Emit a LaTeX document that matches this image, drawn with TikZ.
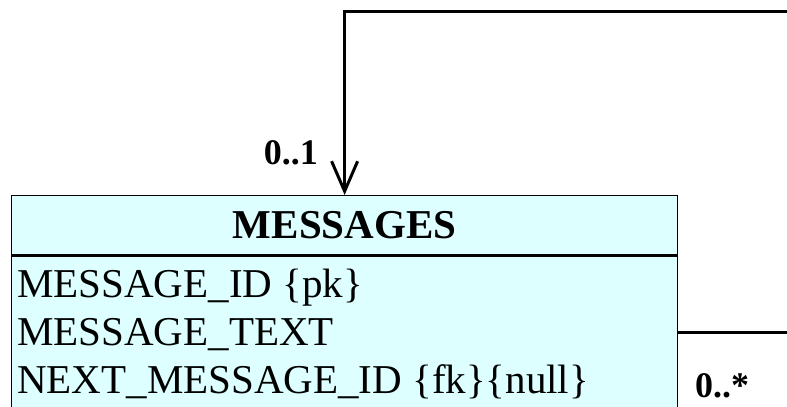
\documentclass[tikz,border=0pt]{standalone}
\usepackage{fontspec}
\setmainfont{Liberation Serif}
\usetikzlibrary{positioning,arrows.meta}
\definecolor{entityfill}{RGB}{221,255,255}
\tikzset{
    entityhead/.style={draw=black, line width=1.2bp, fill=entityfill, minimum width=666bp, minimum height=59bp,
        inner sep=0, font=\fontsize{41bp}{46bp}\selectfont\bfseries},
    entitybody/.style={draw=black, line width=1.2bp, fill=entityfill, minimum width=666bp, minimum height=200bp, inner sep=0},
    attribute/.style={anchor=base west, inner sep=0, font=\fontsize{41bp}{46bp}\selectfont},
    multiplicity/.style={inner sep=0, text depth=0pt, font=\fontsize{36bp}{40bp}\selectfont\bfseries},
    assoc/.style={line width=3bp, -{Straight Barb[length=30bp, width=26bp, line width=3bp]}}
}
\begin{document}
\begin{tikzpicture}[x=1bp, y=-1bp]
    \useasboundingbox (0,0) rectangle (787,406);
    \clip (0,0) rectangle (787,406);

    % Entity
    \node [entityhead, anchor=north west] (msghead) at (11,195) {MESSAGES};
    \node [entitybody, anchor=north west] (msgbody) at (msghead.south west) {};
    \draw [line width=3bp] (msghead.south west) -- (msghead.south east);

    % Attributes
    \node [attribute] (msgid) at (17,297) {MESSAGE\_ID \{pk\}};
    \node [attribute] (msgtext) at (17,345) {MESSAGE\_TEXT};
    \node [attribute] (nextid) at (17,393) {NEXT\_MESSAGE\_ID \{fk\}\{null\}};

    % Self association
    \coordinate (selfout) at (msgbody.east |- 0,332);
    \coordinate (loopcorner) at (840,11);
    \draw [assoc] (selfout) -| (loopcorner) -| (msghead.north);

    % Multiplicities
    \node [multiplicity, anchor=base east] (mult1) at (318,164) {0..1};
    \node [multiplicity, anchor=base west] (mult2) at (695,397) {0..*};
\end{tikzpicture}
\end{document}
